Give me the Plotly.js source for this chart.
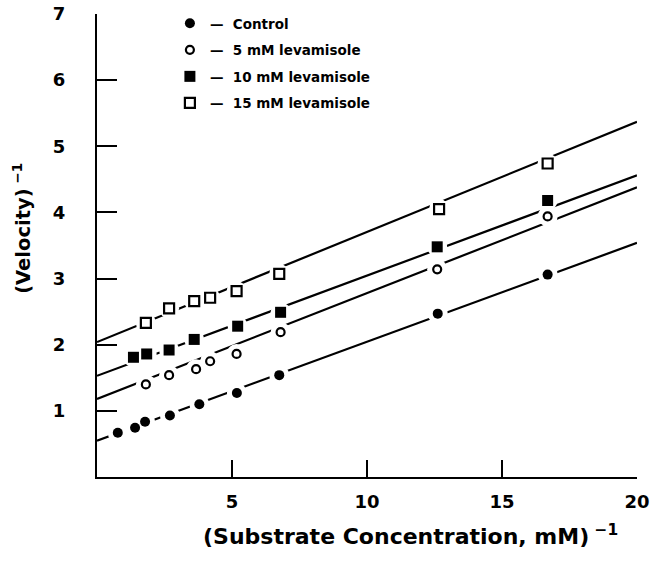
<!DOCTYPE html>
<html>
<head>
<meta charset="utf-8">
<script src="https://cdn.plot.ly/plotly-3.0.1.min.js"></script>
<style>html,body{margin:0;padding:0;background:#fff;}#chart{width:652px;height:564px;}</style>
</head>
<body>
<div id="chart"></div>
<script>
// Data
var seriesNames = ["Control", "5 mM levamisole", "10 mM levamisole", "15 mM levamisole"];
var controlX = [0.77, 1.41, 1.78, 2.70, 3.79, 5.18, 6.75, 12.62, 16.69];
var controlY = [0.67, 0.745, 0.835, 0.93, 1.10, 1.27, 1.54, 2.47, 3.06];
var lev5X = [1.81, 2.67, 3.67, 4.19, 5.17, 6.80, 12.60, 16.69];
var lev5Y = [1.40, 1.54, 1.63, 1.75, 1.86, 2.19, 3.14, 3.94];
var lev10X = [1.35, 1.84, 2.67, 3.60, 5.21, 6.80, 12.60, 16.69];
var lev10Y = [1.81, 1.86, 1.92, 2.08, 2.28, 2.49, 3.48, 4.18];
var lev15X = [1.81, 2.67, 3.60, 4.19, 5.17, 6.75, 12.67, 16.69];
var lev15Y = [2.33, 2.55, 2.66, 2.71, 2.81, 3.07, 4.05, 4.74];
// Fitted lines (ends at x = 0 and x = 20)
var fitX = [0, 20];
var controlFit = [0.55, 3.54];
var lev5Fit = [1.18, 4.38];
var lev10Fit = [1.53, 4.56];
var lev15Fit = [2.04, 5.37];
var xTicks = [5, 10, 15, 20];
var yTicks = [1, 2, 3, 4, 5, 6, 7];
var xTitle = "(Substrate Concentration, mM)<sup> \u22121</sup>";
var yTitle = "(Velocity)<sup> \u22121</sup>";

var xs = [controlX, lev5X, lev10X, lev15X];
var ys = [controlY, lev5Y, lev10Y, lev15Y];
var fits = [controlFit, lev5Fit, lev10Fit, lev15Fit];
var markerStyles = [
  {symbol: "circle", size: 10, color: "#000", line: {width: 0}},
  {symbol: "circle", size: 8, color: "#fff", line: {width: 2.2, color: "#000"}},
  {symbol: "square", size: 11, color: "#000", line: {width: 0}},
  {symbol: "square", size: 10, color: "#fff", line: {width: 2.2, color: "#000"}}
];

var traces = [];
// fitted lines (bottom subplot layer)
for (var i = 0; i < 4; i++) {
  traces.push({type: "scatter", x: fitX, y: fits[i], mode: "lines",
    line: {color: "#000", width: 2.2}, showlegend: false, hoverinfo: "skip",
    xaxis: "x", yaxis: "y"});
}
// white halos that break the lines around each point (overlay layer)
for (var i = 0; i < 4; i++) {
  traces.push({type: "scatter", x: xs[i], y: ys[i], mode: "markers",
    marker: {symbol: "circle", size: 20, color: "#fff", line: {width: 0}},
    showlegend: false, hoverinfo: "skip", xaxis: "x2", yaxis: "y2"});
}
// data points (overlay layer)
for (var i = 0; i < 4; i++) {
  traces.push({type: "scatter", x: xs[i], y: ys[i], mode: "markers",
    name: "\u2014  " + seriesNames[i], legendgroup: "g" + i, marker: markerStyles[i],
    xaxis: "x2", yaxis: "y2"});
}

var fontFam = "DejaVu Sans, Verdana, sans-serif";
var layout = {
  width: 652, height: 564,
  margin: {l: 97, r: 15, t: 14, b: 87, autoexpand: false},
  paper_bgcolor: "#fff", plot_bgcolor: "#fff",
  font: {family: fontFam, color: "#000", size: 14, weight: 700},
  showlegend: true,
  legend: {x: 0.135, xanchor: "left", y: 1.013, yanchor: "top", bgcolor: "rgba(0,0,0,0)",
    font: {family: fontFam, size: 13.5, weight: 700, color: "#000"}, tracegroupgap: 6,
    traceorder: "grouped"},
  xaxis: {range: [0, 20], showline: true, linecolor: "#000", linewidth: 2,
    showgrid: false, zeroline: false, ticks: "inside", ticklen: 17, tickwidth: 2,
    tickcolor: "#000", tickvals: xTicks, ticktext: xTicks.map(String),
    tickfont: {family: fontFam, size: 18, weight: 700}, ticklabelstandoff: 7},
  yaxis: {range: [0, 7], showline: true, linecolor: "#000", linewidth: 2,
    showgrid: false, zeroline: false, ticks: "inside", ticklen: 20, tickwidth: 2,
    tickcolor: "#000", tickvals: yTicks, ticktext: yTicks.map(String),
    tickfont: {family: fontFam, size: 18, weight: 700}, ticklabelstandoff: 26},
  xaxis2: {range: [0, 20], overlaying: "x", visible: false, showgrid: false, zeroline: false},
  yaxis2: {range: [0, 7], overlaying: "y", visible: false, showgrid: false, zeroline: false},
  annotations: [
    {text: xTitle, xref: "paper", yref: "paper", x: 0.581, y: -0.125,
      xanchor: "center", yanchor: "middle", showarrow: false,
      font: {family: fontFam, size: 22, weight: 700, color: "#000"}},
    {text: yTitle, xref: "paper", yref: "paper", x: -0.139, y: 0.538, textangle: -90,
      xanchor: "center", yanchor: "middle", showarrow: false,
      font: {family: fontFam, size: 19.5, weight: 700, color: "#000"}}
  ]
};

Plotly.newPlot("chart", traces, layout, {staticPlot: true, displayModeBar: false});
</script>
</body>
</html>
